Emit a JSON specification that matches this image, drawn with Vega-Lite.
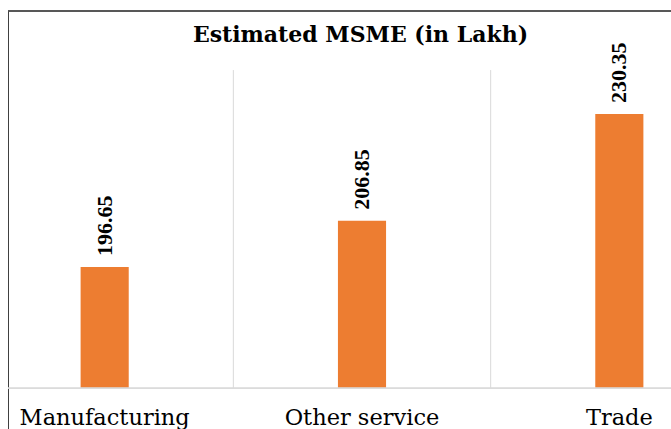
{
  "$schema": "https://vega.github.io/schema/vega-lite/v6.json",
  "width": 663,
  "height": 418,
  "autosize": {"type": "none"},
  "padding": {"left": 8, "top": 11, "right": 0, "bottom": 0},
  "background": "white",
  "config": {"view": {"stroke": null}},
  "title": {
    "text": "Estimated MSME (in Lakh)",
    "font": "DejaVu Serif",
    "fontSize": 22,
    "fontWeight": "bold",
    "color": "#000000",
    "anchor": "middle",
    "baseline": "alphabetic",
    "offset": -53,
    "dx": 21
  },
  "data": {
    "values": [
      {"category": "Manufacturing", "value": 196.65},
      {"category": "Other service", "value": 206.85},
      {"category": "Trade", "value": 230.35}
    ]
  },
  "layer": [
    {
      "mark": {"type": "bar", "color": "#ED7D31", "width": {"band": 0.187}},
      "encoding": {
        "x": {"field": "category", "type": "nominal", "sort": null,
              "scale": {"domain": ["Manufacturing", "Other service", "Trade"], "range": [-32, 740], "paddingInner": 0, "paddingOuter": 0},
              "axis": {"orient": "bottom", "offset": -41, "title": null, "domain": false, "ticks": false, "grid": false,
                       "labelAngle": 0, "labelFont": "DejaVu Serif", "labelFontSize": 22.5, "labelColor": "#000000",
                       "labelPadding": 18, "labelOverlap": false}},
        "y": {"field": "value", "type": "quantitative",
              "scale": {"domain": [161, 253], "nice": false, "zero": false},
              "axis": {"title": null, "labels": false, "ticks": false, "grid": false, "domain": true, "domainColor": "#404040", "domainWidth": 1}},
        "y2": {"datum": 170}
      }
    },
    {
      "mark": {"type": "rule", "color": "#d9d9d9", "strokeWidth": 1},
      "encoding": {
        "x": {"field": "category", "type": "nominal", "bandPosition": 0},
        "y": {"datum": 170, "type": "quantitative"},
        "y2": {"datum": 240}
      }
    },
    {
      "mark": {"type": "rule", "color": "#d9d9d9", "strokeWidth": 1},
      "encoding": {
        "y": {"datum": 170, "type": "quantitative"}
      }
    },
    {
      "mark": {"type": "rule", "color": "#404040", "strokeWidth": 1},
      "encoding": {
        "y": {"datum": 253, "type": "quantitative"}
      }
    },
    {
      "mark": {"type": "text", "angle": 270, "align": "left", "baseline": "middle", "dx": 11,
               "font": "Liberation Serif", "fontSize": 22, "fontWeight": "bold", "color": "#000000"},
      "encoding": {
        "x": {"field": "category", "type": "nominal"},
        "y": {"field": "value", "type": "quantitative"},
        "text": {"field": "value", "type": "quantitative", "format": ".2f"}
      }
    }
  ]
}
